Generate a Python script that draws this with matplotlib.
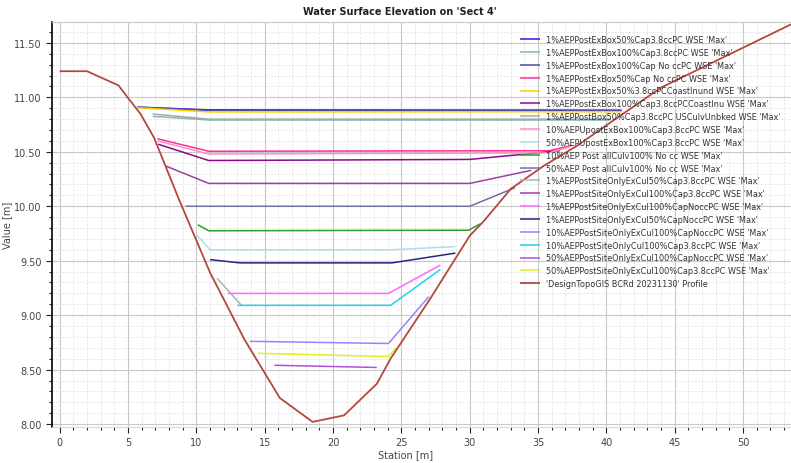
import matplotlib
matplotlib.use("Agg")
import matplotlib.pyplot as plt
from matplotlib.ticker import MultipleLocator, FormatStrFormatter

# series: (label, colour, stations, elevations)
LABELS = [
    "1%AEPPostExBox50%Cap3.8ccPC WSE 'Max'",
    "1%AEPPostExBox100%Cap3.8ccPC WSE 'Max'",
    "1%AEPPostExBox100%Cap No ccPC WSE 'Max'",
    "1%AEPPostExBox50%Cap No ccPC WSE 'Max'",
    "1%AEPPostExBox50%3.8ccPCCoastInund WSE 'Max'",
    "1%AEPPostExBox100%Cap3.8ccPCCoastInu WSE 'Max'",
    "1%AEPPostBox50%Cap3.8ccPC USCulvUnbked WSE 'Max'",
    "10%AEPUpostExBox100%Cap3.8ccPC WSE 'Max'",
    "50%AEPUpostExBox100%Cap3.8ccPC WSE 'Max'",
    "10%AEP Post allCulv100% No cc WSE 'Max'",
    "50%AEP Post allCulv100% No cc WSE 'Max'",
    "1%AEPPostSiteOnlyExCul50%Cap3.8ccPC WSE 'Max'",
    "1%AEPPostSiteOnlyExCul100%Cap3.8ccPC WSE 'Max'",
    "1%AEPPostSiteOnlyExCul100%CapNoccPC WSE 'Max'",
    "1%AEPPostSiteOnlyExCul50%CapNoccPC WSE 'Max'",
    "10%AEPPostSiteOnlyExCul100%CapNoccPC WSE 'Max'",
    "10%AEPPostSiteOnlyCul100%Cap3.8ccPC WSE 'Max'",
    "50%AEPPostSiteOnlyExCul100%CapNoccPC WSE 'Max'",
    "50%AEPPostSiteOnlyExCul100%Cap3.8ccPC WSE 'Max'",
    "'DesignTopoGIS BCRd 20231130' Profile",
]

COLORS = [
    "#2222e8", "#7fb8b5", "#4b4bb0", "#ff2f96", "#ffcc00",
    "#8b0a8b", "#a8a8a8", "#ff8fc0", "#b0dcec", "#2e9e2e",
    "#6b73a6", "#a3b7ad", "#9c40a8", "#ff66ff", "#262680",
    "#9f7fff", "#22d0f0", "#b050d8", "#e0f020", "#b5473f",
]

STATIONS = [
    [5.7, 10.9, 41.1],
    [6.8, 10.9, 40.3],
    [5.7, 10.9, 41.1],
    [7.15, 10.9, 35.8, 37.5],
    [5.7, 10.9, 41.1],
    [7.2, 10.9, 30.0, 36.6],
    [6.8, 10.9, 40.3],
    [7.15, 10.9, 35.8, 37.3],
    [10.0, 11.0, 24.2, 28.95],
    [10.1, 10.9, 29.9, 30.8],
    [9.2, 30.0, 33.3],
    [11.5, 13.3],
    [7.75, 10.9, 30.0, 34.5],
    [12.3, 24.05, 27.85],
    [11.0, 13.2, 24.3, 28.95],
    [13.9, 24.05, 27.0],
    [13.0, 24.2, 27.85],
    [15.7, 23.2],
    [14.5, 24.05, 24.6],
    [0, 2.0, 2.7, 4.3, 4.9, 5.9, 6.9, 8.7, 11.0, 13.5, 16.1, 18.5, 20.8,
     23.2, 24.2, 27.1, 30.0, 31.0, 33.0, 35.4, 37.9, 40.3, 44.0, 53.5],
]

ELEVATIONS = [
    [10.91, 10.885, 10.882],
    [10.826, 10.792, 10.792],
    [10.91, 10.88, 10.878],
    [10.62, 10.505, 10.51, 10.56],
    [10.905, 10.866, 10.868],
    [10.57, 10.42, 10.43, 10.51],
    [10.847, 10.80, 10.80],
    [10.60, 10.48, 10.49, 10.545],
    [9.74, 9.60, 9.60, 9.63],
    [9.83, 9.775, 9.78, 9.84],
    [10.0, 10.0, 10.17],
    [9.34, 9.09],
    [10.37, 10.21, 10.21, 10.33],
    [9.20, 9.20, 9.46],
    [9.51, 9.48, 9.48, 9.57],
    [8.76, 8.74, 9.17],
    [9.09, 9.09, 9.42],
    [8.54, 8.52],
    [8.65, 8.62, 8.70],
    [11.24, 11.24, 11.2, 11.11, 11.01, 10.85, 10.63, 10.07, 9.39, 8.78, 8.24,
     8.02, 8.08, 8.37, 8.6, 9.15, 9.73, 9.86, 10.16, 10.37, 10.56, 10.77,
     11.09, 11.67],
]


def main():
    plt.rcParams.update({"font.family": ["DejaVu Sans"], "font.size": 6.5})
    fig = plt.figure(figsize=(7.91, 4.64), dpi=100)
    ax = fig.add_axes([0.066, 0.078, 0.934, 0.872])

    for label, color, xs, ys in zip(LABELS, COLORS, STATIONS, ELEVATIONS):
        lw = 1.3 if label.endswith("Profile") else 1.1
        ax.plot(xs, ys, color=color, lw=lw, label=label, solid_capstyle="butt")

    ax.set_xlim(-0.55, 53.5)
    ax.set_ylim(7.975, 11.69)
    ax.xaxis.set_major_locator(MultipleLocator(5))
    ax.xaxis.set_minor_locator(MultipleLocator(1))
    ax.yaxis.set_major_locator(MultipleLocator(0.5))
    ax.yaxis.set_minor_locator(MultipleLocator(0.1))
    ax.yaxis.set_major_formatter(FormatStrFormatter("%.2f"))

    ax.grid(which="major", color="#c8c8c8", lw=0.8)
    ax.grid(which="minor", color="#dddddd", lw=0.5, ls=(0, (3, 2)))
    ax.set_axisbelow(True)

    ax.spines["right"].set_visible(False)
    ax.spines["top"].set_color("#c8c8c8")
    ax.spines["bottom"].set_color("#d8d8d8")
    ax.spines["left"].set_color("black")
    ax.spines["left"].set_linewidth(1.2)
    ax.tick_params(which="major", length=4, width=0.8, colors="#222222",
                   labelcolor="#444444", labelsize=7)
    ax.tick_params(which="minor", length=2.5, width=0.8, colors="#222222")
    ax.tick_params(axis="x", pad=3)

    ax.set_xlabel("Station [m]", color="#444444", fontsize=7)
    ax.xaxis.set_label_coords(0.478, -0.056)
    ax.set_ylabel("Value [m]", color="#444444", fontsize=7)
    ax.yaxis.set_label_coords(-0.054, 0.5)

    fig.text(0.505, 0.975, "Water Surface Elevation on 'Sect 4'", ha="center",
             va="center", fontsize=7, fontweight="bold", color="#222222")

    ax.legend(loc="upper left", bbox_to_anchor=(520 / 791, 1 - 36 / 464),
              bbox_transform=fig.transFigure, frameon=False, fontsize=5.9,
              labelspacing=0.47, handlelength=2.4, handletextpad=0.8,
              borderaxespad=0, borderpad=0, labelcolor="#333333")

    fig.savefig("out.png", dpi=100)
    plt.close(fig)


if __name__ == "__main__":
    main()
